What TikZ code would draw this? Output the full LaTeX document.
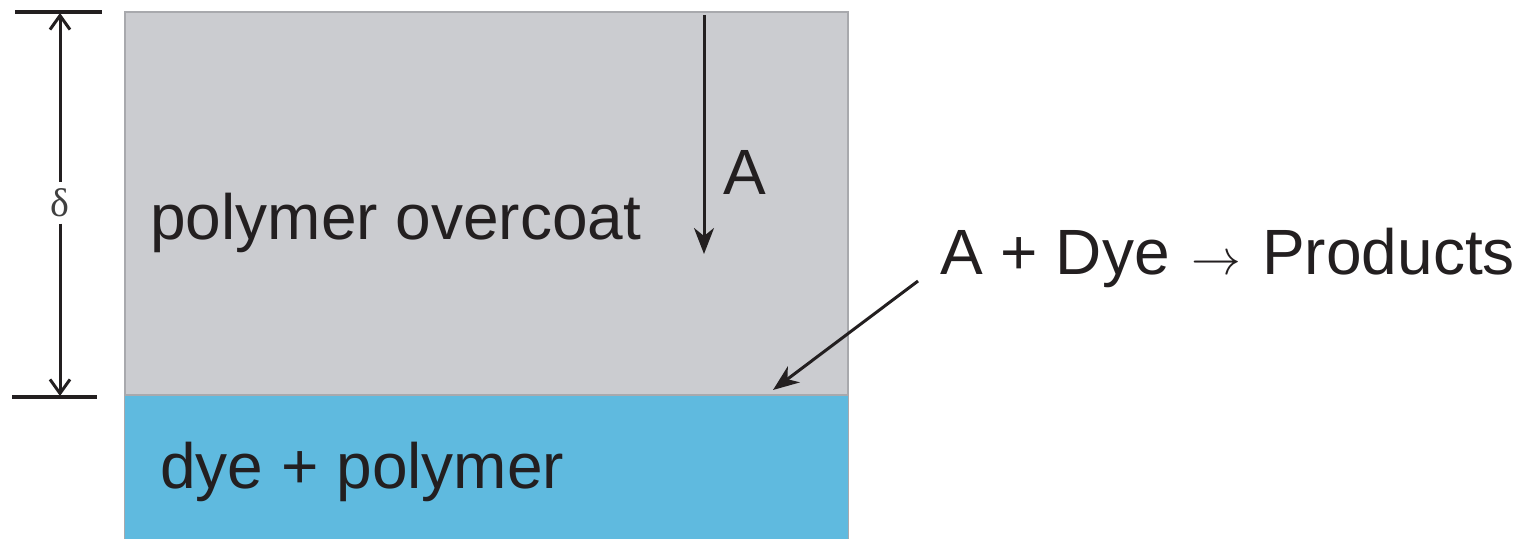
\documentclass[tikz,border=0pt]{standalone}
\usepackage{fontspec}
\setmainfont{Liberation Sans}
\newfontfamily\greekserif{Liberation Serif}
\usetikzlibrary{arrows.meta}
\definecolor{coatgray}{HTML}{CBCCD0}
\definecolor{dyeblue}{HTML}{5FBADF}
\definecolor{edgegray}{HTML}{A8A9AD}
\definecolor{ink}{HTML}{231F20}
\tikzset{
  lbl/.style={font=\fontsize{32}{34}\selectfont, text=ink, inner sep=0pt},
  arr/.style={draw=ink, line width=1.5pt, -{Stealth[length=13pt,width=10pt,inset=4pt]}},
  barb/.style={line width=1.5pt, draw=ink},
  bar/.style={line width=1.8pt, draw=ink},
}
\begin{document}
\begin{tikzpicture}[x=0.5pt,y=-0.5pt]
\useasboundingbox (0,0) rectangle (1532,539);
% layers
\fill[coatgray] (125,12) rectangle (848,395);
\draw[edgegray, line width=0.6pt] (125,539) -- (125,12) -- (848,12) -- (848,539);
\fill[dyeblue] (125,395) rectangle (848,539);
\draw[edgegray, line width=0.8pt] (125,395) -- (848,395);
% thickness dimension
\draw[bar] (15,12) -- (102,12);
\draw[bar] (12,397) -- (97,397);
\coordinate (dtop) at (60,13);
\coordinate (dbot) at (60,396);
\node[inner sep=3pt, text=black!75, font=\greekserif\fontsize{20}{22}\selectfont] (delta) at (60,203) {δ};
\draw[barb, {Straight Barb[length=7pt,width=10pt]}-] (dtop) -- (delta.north);
\draw[barb, -{Straight Barb[length=7pt,width=10pt]}] (delta.south) -- (dbot);
% labels
\node[lbl, anchor=base west] (over) at (150,240) {polymer overcoat};
\node[lbl, anchor=base west] (dye) at (160,488) {dye + polymer};
% diffusion arrow A
\coordinate (atop) at (704,15);
\coordinate (abot) at (704,254);
\draw[arr] (atop) -- (abot);
\node[lbl, anchor=base west] (alabel) at (723,195) {A};
% reaction
\node[lbl, anchor=base west] (react) at (940,275) {A + Dye\,\,$\rightarrow$\,\,Products};
\coordinate (rstart) at (918,281);
\coordinate (rend) at (773,390);
\draw[arr] (rstart) -- (rend);
\end{tikzpicture}
\end{document}
